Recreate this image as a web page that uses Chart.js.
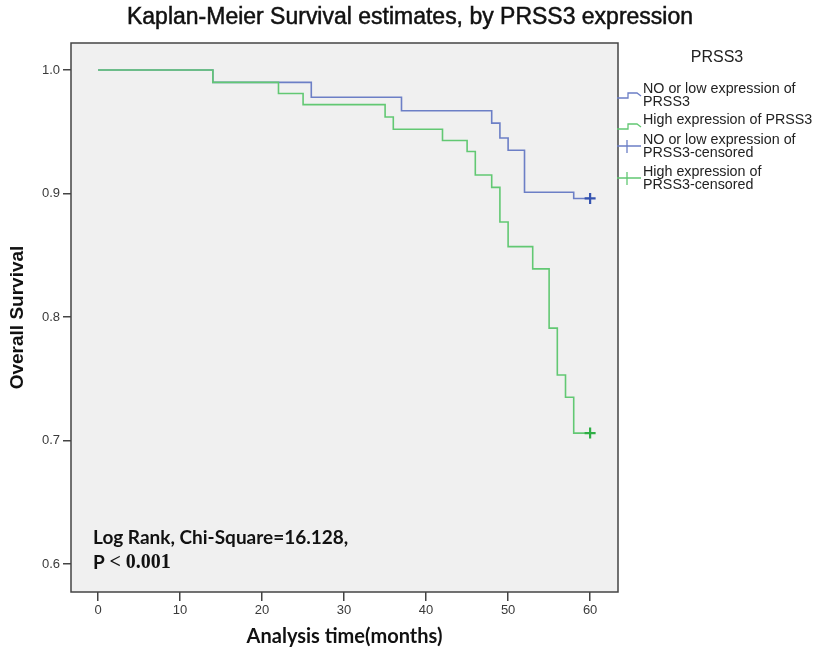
<!DOCTYPE html>
<html>
<head>
<meta charset="utf-8">
<script src="https://cdn.jsdelivr.net/npm/chart.js@4"></script>
<style>
  html, body { margin: 0; padding: 0; background: #ffffff; }
  #wrap { width: 820px; height: 652px; }
</style>
</head>
<body>
<div id="wrap"><canvas id="kmChart" width="820" height="652"></canvas></div>
<script>
// Kaplan-Meier steps
const lowTimes = [0, 14, 26, 37, 48, 49, 50, 52, 58, 60];
const lowSurv = [1.0, 0.990, 0.978, 0.967, 0.957, 0.945, 0.935, 0.901, 0.896, 0.896];
const highTimes = [0, 14, 22, 25, 35, 36, 42, 45, 46, 48, 49, 50, 53, 55, 56, 57, 58, 60];
const highSurv = [1.0, 0.990, 0.981, 0.972, 0.962, 0.952, 0.943, 0.934, 0.915, 0.905, 0.877, 0.857, 0.839, 0.791, 0.753, 0.735, 0.706, 0.706];
const lowCensorTimes = [60];
const lowCensorSurv = [0.896];
const highCensorTimes = [60];
const highCensorSurv = [0.706];

const xTickValues = [0, 10, 20, 30, 40, 50, 60];
const yTickValues = [0.6, 0.7, 0.8, 0.9, 1.0];

const chartTitle = 'Kaplan-Meier Survival estimates, by PRSS3 expression';
const legendTitle = 'PRSS3';
const legendLabels = [
    ['NO or low expression of', 'PRSS3'],
    ['High expression of PRSS3'],
    ['NO or low expression of', 'PRSS3-censored'],
    ['High expression of', 'PRSS3-censored']
];

const BLUE = '#6c7fc6';
const GREEN = '#62c873';
const BLUE_DARK = '#3553b0';
const GREEN_DARK = '#2fae45';
const AXIS = '#444444';

function toPoints(xs, ys) {
    return xs.map((x, i) => ({ x: x, y: ys[i] }));
}

// plot background + frame
const framePlugin = {
    id: 'frame',
    beforeDatasetsDraw(chart) {
        const a = chart.chartArea, ctx = chart.ctx;
        ctx.save();
        ctx.fillStyle = '#f0f0f0';
        ctx.fillRect(a.left, a.top, a.right - a.left, a.bottom - a.top);
        ctx.restore();
    },
    afterDraw(chart) {
        const a = chart.chartArea, ctx = chart.ctx;
        ctx.save();
        ctx.strokeStyle = AXIS;
        ctx.lineWidth = 1.5;
        ctx.strokeRect(a.left, a.top, a.right - a.left, a.bottom - a.top);
        ctx.restore();
    }
};

// title, stats text and side legend
const notesPlugin = {
    id: 'notes',
    afterDraw(chart) {
        const ctx = chart.ctx;
        ctx.save();
        ctx.textBaseline = 'middle';

        // title, squeezed to the width it has in the picture
        ctx.fillStyle = '#111';
        ctx.textAlign = 'center';
        ctx.font = '23px "Liberation Sans Narrow", "Liberation Sans", Arial, sans-serif';
        const tw = ctx.measureText(chartTitle).width;
        ctx.save();
        ctx.translate(410, 18);
        ctx.scale(566 / tw, 1);
        ctx.lineWidth = 0.5;
        ctx.strokeStyle = '#111';
        ctx.fillText(chartTitle, 0, 0);
        ctx.strokeText(chartTitle, 0, 0);
        ctx.restore();

        ctx.textAlign = 'left';
        ctx.font = 'bold 19px Lato, "Open Sans", sans-serif';
        ctx.fillText('Log Rank, Chi-Square=16.128,', 93, 538);
        ctx.fillText('P', 93, 563);
        const pw = ctx.measureText('P ').width;
        ctx.font = 'bold 20px "Liberation Serif", serif';
        ctx.fillText('< 0.001', 93 + pw, 563);

        // legend
        ctx.fillStyle = '#222';
        ctx.textAlign = 'center';
        ctx.font = '16px "Liberation Sans", Arial, sans-serif';
        ctx.fillText(legendTitle, 717, 58);

        ctx.textAlign = 'left';
        ctx.font = '14.3px "Liberation Sans", Arial, sans-serif';
        const colors = [BLUE, GREEN, BLUE, GREEN];
        const rowTops = [89, 120, 140, 172];
        legendLabels.forEach((lines, i) => {
            const y0 = rowTops[i];
            lines.forEach((t, k) => ctx.fillText(t, 643, y0 + k * 13.5));
            const iy = y0 + 6;
            ctx.strokeStyle = colors[i];
            ctx.lineWidth = 1.3;
            ctx.beginPath();
            if (i < 2) {
                ctx.moveTo(617, iy + 3);
                ctx.lineTo(628, iy + 3);
                ctx.lineTo(628, iy - 2);
                ctx.lineTo(637, iy - 2);
                ctx.lineTo(641, iy + 1);
            } else {
                ctx.moveTo(617, iy);
                ctx.lineTo(641, iy);
                ctx.moveTo(627, iy - 6);
                ctx.lineTo(627, iy + 7);
            }
            ctx.stroke();
        });
        ctx.restore();
    }
};

new Chart(document.getElementById('kmChart'), {
    type: 'line',
    data: {
        datasets: [
            {
                label: 'NO or low expression of PRSS3',
                data: toPoints(lowTimes, lowSurv),
                borderColor: BLUE,
                borderWidth: 1.6,
                stepped: 'before',
                pointRadius: 0,
                fill: false,
                order: 2
            },
            {
                label: 'High expression of PRSS3',
                data: toPoints(highTimes, highSurv),
                borderColor: GREEN,
                borderWidth: 1.6,
                stepped: 'before',
                pointRadius: 0,
                fill: false,
                order: 1
            },
            {
                label: 'NO or low expression of PRSS3-censored',
                data: toPoints(lowCensorTimes, lowCensorSurv),
                showLine: false,
                pointStyle: 'cross',
                pointRadius: 5.5,
                pointBorderWidth: 2.2,
                borderColor: BLUE_DARK,
                order: 0
            },
            {
                label: 'High expression of PRSS3-censored',
                data: toPoints(highCensorTimes, highCensorSurv),
                showLine: false,
                pointStyle: 'cross',
                pointRadius: 5.5,
                pointBorderWidth: 2.2,
                borderColor: GREEN_DARK,
                order: 0
            }
        ]
    },
    options: {
        responsive: false,
        animation: false,
        layout: { padding: { left: 0, right: 202, top: 43, bottom: 0 } },
        plugins: {
            legend: { display: false },
            tooltip: { enabled: false },
            title: { display: false }
        },
        scales: {
            x: {
                type: 'linear',
                min: -3.3,
                max: 63.4,
                afterFit(scale) { scale.height = 60; },
                afterBuildTicks(scale) { scale.ticks = xTickValues.map(v => ({ value: v })); },
                grid: { drawOnChartArea: false, drawTicks: true, tickLength: 9, color: AXIS, lineWidth: 1.5 },
                border: { display: false },
                ticks: {
                    color: '#3a3a3a',
                    padding: 2,
                    maxRotation: 0,
                    font: { family: '"Liberation Sans", Arial, sans-serif', size: 13 }
                },
                title: {
                    display: true,
                    text: 'Analysis time(months)',
                    color: '#111',
                    font: { family: 'Lato, "Open Sans", sans-serif', size: 20, weight: 'bold' },
                    padding: { top: 0, bottom: 3 }
                }
            },
            y: {
                type: 'linear',
                min: 0.5773,
                max: 1.0219,
                afterFit(scale) { scale.width = 71; },
                afterBuildTicks(scale) { scale.ticks = yTickValues.map(v => ({ value: v })); },
                grid: { drawOnChartArea: false, drawTicks: true, tickLength: 8, color: AXIS, lineWidth: 1.5 },
                border: { display: false },
                ticks: {
                    color: '#3a3a3a',
                    padding: 3,
                    font: { family: '"Liberation Sans", Arial, sans-serif', size: 13 },
                    callback: v => v.toFixed(1)
                },
                title: {
                    display: true,
                    text: 'Overall Survival',
                    color: '#111',
                    font: { family: '"Liberation Sans", Arial, sans-serif', size: 19, weight: 'bold' },
                    padding: { top: 6, bottom: 0 }
                }
            }
        }
    },
    plugins: [framePlugin, notesPlugin]
});
</script>
</body>
</html>
